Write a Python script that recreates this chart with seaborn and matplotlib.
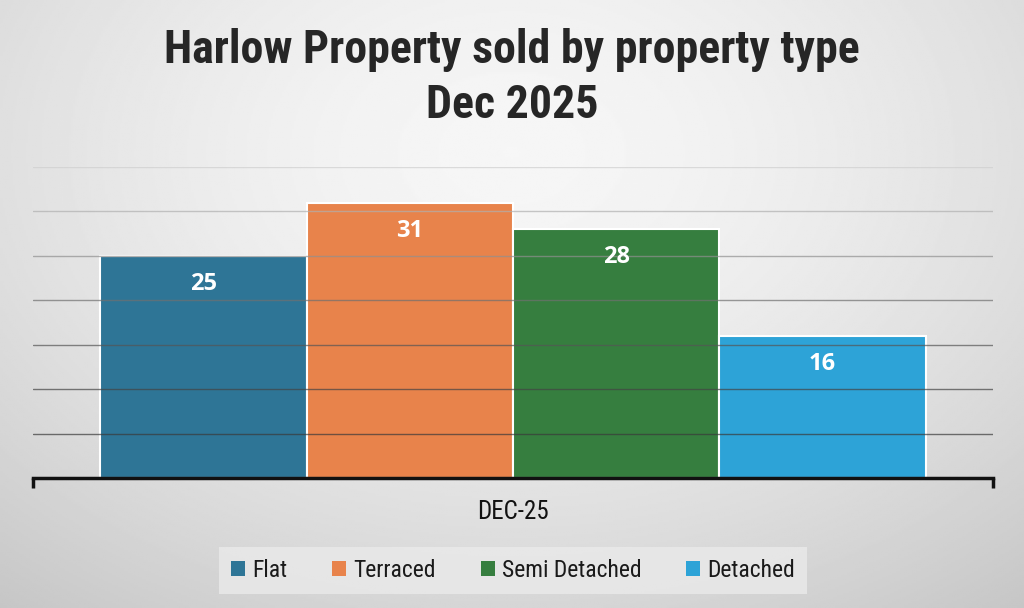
import numpy as np
import pandas as pd
import matplotlib.pyplot as plt
import seaborn as sns

# data
period = ["DEC-25", "DEC-25", "DEC-25", "DEC-25"]
prop_types = ["Flat", "Terraced", "Semi Detached", "Detached"]
sold = [25, 31, 28, 16]
colours = ["#2E7596", "#E8834B", "#367E3F", "#2DA3D7"]
grid_vals = [5, 10, 15, 20, 25, 30, 35]

sns.set_theme(style="white")
narrow = ["Liberation Sans Narrow", "Roboto Condensed", "Roboto", "DejaVu Sans"]
plt.rcParams["font.family"] = narrow

df = pd.DataFrame({"period": period, "type": prop_types, "sold": sold})

fig = plt.figure(figsize=(10.24, 6.08), dpi=100)

# grey gradient background
bg = fig.add_axes([0, 0, 1, 1])
bg.axis("off")
yy, xx = np.mgrid[0:1:300j, 0:1:500j]
r = np.sqrt(((xx - 0.5) / 0.75) ** 2 + ((yy - 0.25) / 0.9) ** 2)
shade = 0.965 - 0.17 * np.clip(r, 0, 1.2) ** 1.6
bg.imshow(shade, cmap="gray", vmin=0, vmax=1, aspect="auto", extent=[0, 1, 1, 0])
bg.set_xlim(0, 1)
bg.set_ylim(1, 0)

ax = fig.add_axes([33 / 1024, 130 / 608, 960 / 1024, 311 / 608])
ax.patch.set_alpha(0)

sns.barplot(data=df, x="period", y="sold", hue="type", palette=colours, saturation=1,
            width=0.86, edgecolor="white", linewidth=1.5, ax=ax)

ax.set_xlim(-0.5, 0.5)
ax.set_ylim(0, 35)
ax.set_xlabel("")
ax.set_ylabel("")

# gridlines over the bars, darker towards the bottom
ax.set_yticks(grid_vals)
ax.set_axisbelow(False)
ax.grid(axis="y", linewidth=1.0)
grid_cols = ["#3a3a3a", "#444444", "#555555", "#707070", "#909090", "#b0b0b0", "#cfcfcf"]
for gl, c in zip(ax.yaxis.get_gridlines(), grid_cols):
    gl.set_color(c)
    gl.set_alpha(0.7)
ax.tick_params(axis="y", length=0, labelleft=False)

for s in ["left", "right", "top"]:
    ax.spines[s].set_visible(False)
ax.spines["bottom"].set_linewidth(2.5)
ax.spines["bottom"].set_color("#111111")
ax.set_xticks([-0.5, 0.5], minor=True)
ax.tick_params(axis="x", which="minor", bottom=True, length=7, width=2.5,
               color="#111111", direction="out")
ax.tick_params(axis="x", which="major", bottom=True, length=0, pad=16,
               labelsize=18, labelcolor="#111111")

for cont in ax.containers:
    ax.bar_label(cont, padding=-29, color="white", fontsize=17, fontweight="bold",
                 family=["Open Sans", "DejaVu Sans"])

sns.move_legend(ax, "upper center", bbox_to_anchor=(0.5, -0.185), ncol=4, title=None,
                frameon=True, fontsize=17, handlelength=0.6, handleheight=0.6,
                handletextpad=0.3, columnspacing=1.9, borderpad=0.5)
leg = ax.get_legend()
leg.get_frame().set_facecolor("#EAEAEA")
leg.get_frame().set_edgecolor("none")
leg.get_frame().set_boxstyle("square", pad=0.0)
for h in leg.legend_handles:
    h.set_edgecolor("none")
for t in leg.get_texts():
    t.set_color("#1a1a1a")

fig.text(0.5, 1 - 50 / 608, "Harlow Property sold by property type", ha="center", va="center",
         fontsize=33, fontweight="bold", color="#262626")
fig.text(0.5, 1 - 105 / 608, "Dec 2025", ha="center", va="center",
         fontsize=33, fontweight="bold", color="#262626")

fig.savefig("out.png", dpi=100)
